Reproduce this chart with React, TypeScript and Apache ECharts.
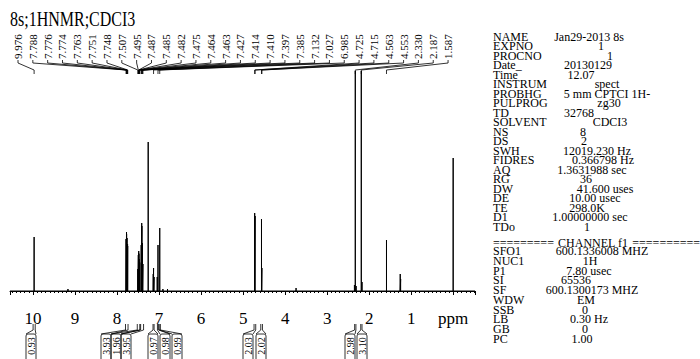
import React, { useEffect, useRef } from 'react';
import * as echarts from 'echarts';

// ---------- DATA ----------
const peakShifts = [
  9.976, 9.17,
  7.788, 7.776, 7.774, 7.763, 7.751, 7.748,
  7.507, 7.495, 7.487, 7.485, 7.482, 7.475, 7.464, 7.463,
  7.427, 7.414, 7.41, 7.397, 7.385, 7.26,
  7.14, 7.132, 7.12, 7.045, 7.027, 6.985, 6.91, 6.8,
  4.725, 4.715, 4.563, 4.553, 3.74,
  2.35, 2.33, 2.31, 2.187, 2.17,
  1.587, 1.26, 1.25, 0.0,
];
const peakHeights = [
  54, 2,
  52, 59, 57, 53, 47, 45,
  22, 36, 38, 40, 37, 32, 29, 28,
  46, 68, 65, 48, 27, 149,
  17, 23, 14, 14, 46, 63, 2, 2,
  78, 75, 72, 23, 3,
  6, 220, 5, 220, 9,
  51, 17, 12, 133,
];

const labelShifts = [
  9.976, 7.788, 7.776, 7.774, 7.763, 7.751, 7.748, 7.507, 7.495, 7.487,
  7.485, 7.482, 7.475, 7.464, 7.463, 7.427, 7.414, 7.41, 7.397, 7.385,
  7.132, 7.027, 6.985, 4.725, 4.715, 4.563, 4.553, 2.33, 2.187, 1.587,
];

const integralValues = ['0.93', '3.93', '1.96', '3.95', '0.97', '0.98', '0.99', '2.03', '2.02', '2.98', '3.10'];
const integralStarts = [10.0, 7.8, 7.52, 7.44, 7.145, 7.04, 7.0, 4.74, 4.58, 2.345, 2.2];
const integralEnds = [9.95, 7.74, 7.46, 7.37, 7.12, 7.01, 6.97, 4.7, 4.54, 2.315, 2.17];

const paramNames1 = ['NAME', 'EXPNO', 'PROCNO', 'Date_', 'Time', 'INSTRUM', 'PROBHG', 'PULPROG', 'TD', 'SOLVENT', 'NS', 'DS', 'SWH', 'FIDRES', 'AQ', 'RG', 'DW', 'DE', 'TE', 'D1', 'TDo'];
const paramValues1 = ['Jan29-2013 8s', '1', '1', '20130129', '12.07', 'spect', '5 mm CPTCI 1H-', 'zg30', '32768', 'CDCI3', '8', '2', '12019.230 Hz', '0.366798 Hz', '1.3631988 sec', '36', '41.600 uses', '10.00 usec', '298.0K', '1.00000000 sec', '1'];
const paramNames2 = ['SFO1', 'NUC1', 'P1', 'SI', 'SF', 'WDW', 'SSB', 'LB', 'GB', 'PC'];
const paramValues2 = ['600.1336008 MHZ', '1H', '7.80 usec', '65536', '600.1300173 MHZ', 'EM', '0', '0.30 Hz', '0', '1.00'];

const titleText = '8s;1HNMR;CDCI3';
const channelText = 'CHANNEL f1';

// ---------- LAYOUT ----------
const X_MIN = -0.52;
const X_MAX = 10.55;
const LABEL_SLOT_START = 18;
const LABEL_SLOT_STEP = 14.83;
const integralBoxX = [31, 106, 116, 126, 153, 165, 177, 248, 261, 350, 362];
const values1X = [589, 601, 610, 588, 581, 607, 607, 609, 579, 610, 583, 584, 597, 603, 592, 586, 605, 595, 587, 590, 587];
const values2X = [602, 590, 589, 576, 592, 586, 585, 589, 585, 582];
const SERIF = 'Liberation Serif';

export default function App() {
  const ref = useRef<HTMLDivElement>(null);

  useEffect(() => {
    const chart = echarts.init(ref.current!, null, { renderer: 'svg' });

    const specData: number[][] = [[X_MAX, 0]];
    peakShifts.forEach((s, i) => {
      specData.push([s, 0], [s, peakHeights[i]], [s, 0]);
    });
    specData.push([X_MIN, 0]);

    const txt = (text: string, align: string, fontSize: number, lineHeight: number) => ({
      text, fill: '#000', fontFamily: SERIF, fontSize, lineHeight,
      textAlign: align, align, textVerticalAlign: 'middle', verticalAlign: 'middle',
    });

    const graphics: any[] = [];
    graphics.push({ type: 'text', x: 10, y: 19, scaleX: 0.8, style: txt(titleText, 'left', 20, 20) });
    const addParam = (name: string, value: string, vx: number, y: number) => {
      graphics.push({ type: 'text', x: 493, y, style: txt(name, 'left', 12, 9) });
      graphics.push({ type: 'text', x: vx, y, style: txt(value, 'center', 12, 9) });
    };
    paramNames1.forEach((n, i) => addParam(n, paramValues1[i], values1X[i], 36.5 + i * 9.5));
    paramNames2.forEach((n, i) => addParam(n, paramValues2[i], values2X[i], 251 + i * 9.75));
    const chY = 243;
    graphics.push({ type: 'text', x: 493, y: chY, style: txt('=========', 'left', 12, 9) });
    graphics.push({ type: 'text', x: 593, y: chY, style: txt(channelText, 'center', 12, 9) });
    graphics.push({ type: 'text', x: 700, y: chY, style: txt('==========', 'right', 12, 9) });

    const option: any = {
      animation: false,
      backgroundColor: '#fff',
      grid: { left: 10, right: 225, top: 71, bottom: 53 },
      xAxis: {
        type: 'value', min: X_MIN, max: X_MAX, inverse: true, splitNumber: 11,
        axisLine: { lineStyle: { color: '#000', width: 1 } },
        axisTick: { length: 4, lineStyle: { color: '#000' } },
        minorTick: { show: true, splitNumber: 10, length: 2, lineStyle: { color: '#000' } },
        splitLine: { show: false },
        minorSplitLine: { show: false },
        axisLabel: {
          formatter: (v: number) => {
            const r = Math.round(v);
            if (Math.abs(v - r) > 1e-6) return '';
            return r === 0 ? 'ppm' : String(r);
          },
          fontFamily: SERIF, fontSize: 17, color: '#000', margin: 4,
        },
      },
      yAxis: { type: 'value', min: -15, max: 220, show: false },
      graphic: graphics,
      series: [
        {
          type: 'line', data: specData, symbol: 'none', silent: true,
          lineStyle: { color: '#000', width: 1 },
        },
        {
          type: 'custom', clip: false, silent: true,
          data: labelShifts.map((s, i) => [s, i]),
          encode: { x: 0 },
          renderItem: (params: any, api: any) => {
            const ppm = api.value(0);
            const i = api.value(1);
            const px = api.coord([ppm, 0])[0];
            const lx = LABEL_SLOT_START + i * LABEL_SLOT_STEP;
            return {
              type: 'group',
              children: [
                {
                  type: 'polyline',
                  shape: { points: [[lx, 60], [lx, 63], [px, 70], [px, 74]] },
                  style: { stroke: '#000', lineWidth: 0.8, fill: 'none' },
                },
                {
                  type: 'text', x: lx, y: 59, rotation: Math.PI / 2,
                  style: txt(labelShifts[i].toFixed(3), 'left', 11, 10),
                },
              ],
            };
          },
        },
        {
          type: 'custom', clip: false, silent: true,
          data: integralValues.map((v, i) => [integralStarts[i], integralEnds[i], i]),
          encode: { x: [0, 1] },
          renderItem: (params: any, api: any) => {
            const x1 = api.coord([api.value(0), 0])[0];
            const x2 = api.coord([api.value(1), 0])[0];
            const i = api.value(2);
            const bx = integralBoxX[i];
            const ls = { stroke: '#000', lineWidth: 0.8, fill: 'none' };
            return {
              type: 'group',
              children: [
                { type: 'line', shape: { x1, y1: 324, x2: x1, y2: 330 }, style: ls },
                { type: 'line', shape: { x1: x2, y1: 324, x2, y2: 330 }, style: ls },
                { type: 'polyline', shape: { points: [[x1, 330], [bx - 5, 334]] }, style: ls },
                { type: 'polyline', shape: { points: [[x2, 330], [bx + 5, 334]] }, style: ls },
                { type: 'rect', shape: { x: bx - 5, y: 334, width: 10, height: 30, r: 2 }, style: ls },
                {
                  type: 'text', x: bx, y: 346, rotation: Math.PI / 2,
                  style: txt(integralValues[i], 'center', 10, 8),
                },
              ],
            };
          },
        },
      ],
    };
    chart.setOption(option);
    return () => chart.dispose();
  }, []);

  return (
    <div
      ref={ref}
      style={{ position: 'absolute', left: 0, top: 0, width: 700, height: 359, background: '#fff' }}
    />
  );
}
